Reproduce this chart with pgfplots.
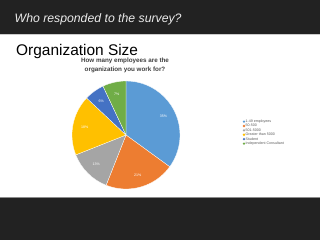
\documentclass[border=0pt]{standalone}
\usepackage{pgfplots}
\pgfplotsset{compat=1.18}
\usepackage{pgfplotstable}
\usepackage{fontspec}
\setmainfont{Liberation Sans}
\definecolor{c0}{HTML}{5B9BD5}
\definecolor{c1}{HTML}{ED7D31}
\definecolor{c2}{HTML}{A5A5A5}
\definecolor{c3}{HTML}{FFC000}
\definecolor{c4}{HTML}{4472C4}
\definecolor{c5}{HTML}{70AD47}
\definecolor{band}{HTML}{222222}
\definecolor{subt}{HTML}{404040}
\definecolor{legt}{HTML}{595959}

\pgfplotstableread{
idx value
0 35
1 21
2 13
3 18
4 6
5 7
}\piedata

\begin{document}
\begin{tikzpicture}
\xdef\cum{90}
\pgfplotsforeachungrouped \i in {0,...,5}{%
  \pgfplotstablegetelem{\i}{value}\of\piedata
  \pgfmathsetmacro\tmpS{\cum}%
  \pgfmathsetmacro\tmpE{\cum-3.6*\pgfplotsretval}%
  \pgfmathsetmacro\tmpM{(\tmpS+\tmpE)/2}%
  \expandafter\xdef\csname pS\i\endcsname{\tmpS}%
  \expandafter\xdef\csname pE\i\endcsname{\tmpE}%
  \expandafter\xdef\csname pM\i\endcsname{\tmpM}%
  \expandafter\xdef\csname pV\i\endcsname{\pgfplotsretval}%
  \xdef\cum{\tmpE}%
}
\begin{axis}[
  x=1bp, y=1bp,
  xmin=0, xmax=320, ymin=0, ymax=240,
  hide axis, clip=false,
  legend style={at={(axis cs:242.5,120.8)}, anchor=north west,
    draw=none, fill=none, inner sep=0pt,
    font=\fontsize{3.6}{4}\selectfont\color{legt},
    nodes={inner sep=0.4bp, text height=2.7bp, text depth=0.9bp},
    row sep=0pt},
  legend cell align=left,
  legend image code/.code={\fill (1.6bp,0) circle (1.3bp);},
]
% background bands
\fill[band] (axis cs:0,206) rectangle (axis cs:320,240);
\fill[white!80!black] (axis cs:0,205) rectangle (axis cs:320,206);
\fill[white] (axis cs:0,43) rectangle (axis cs:320,205);
\fill[white!55!black] (axis cs:0,42) rectangle (axis cs:320,43);
\fill[band] (axis cs:0,0) rectangle (axis cs:320,42);
% texts
\node[anchor=base west, inner sep=0pt, text=white!92!black,
  font=\fontsize{12.3}{14}\selectfont\itshape] at (axis cs:14.5,218) {Who responded to the survey?};
\node[anchor=base west, inner sep=0pt, text=black,
  font=\fontsize{15.5}{18}\selectfont] at (axis cs:16,184.7) {Organization Size};
\node[anchor=base, inner sep=0pt, text=subt,
  font=\fontsize{6.3}{8}\selectfont\bfseries] at (axis cs:125,177.5) {How many employees are the};
\node[anchor=base, inner sep=0pt, text=subt,
  font=\fontsize{6.3}{8}\selectfont\bfseries] at (axis cs:125,169) {organization you work for?};
% pie
\pgfplotsinvokeforeach{0,...,5}{%
  \fill[c#1, draw=white, line width=0.3bp] (axis cs:126,105) -- ++(\csname pS#1\endcsname:54bp)
    arc[start angle=\csname pS#1\endcsname, end angle=\csname pE#1\endcsname, radius=54bp] -- cycle;
}
\pgfplotsinvokeforeach{0,...,5}{%
  \node[text=white, inner sep=0pt, font=\fontsize{3.6}{4}\selectfont]
    at ([shift={(\csname pM#1\endcsname:42bp)}]axis cs:126,105) {\csname pV#1\endcsname\%};
}
\addlegendimage{fill=c0, draw=none}
\addlegendimage{fill=c1, draw=none}
\addlegendimage{fill=c2, draw=none}
\addlegendimage{fill=c3, draw=none}
\addlegendimage{fill=c4, draw=none}
\addlegendimage{fill=c5, draw=none}
\legend{1-49 employees, 50-500, 501-5000, Greater than 5000, Student, Independent Consultant}
\end{axis}
\end{tikzpicture}
\end{document}
